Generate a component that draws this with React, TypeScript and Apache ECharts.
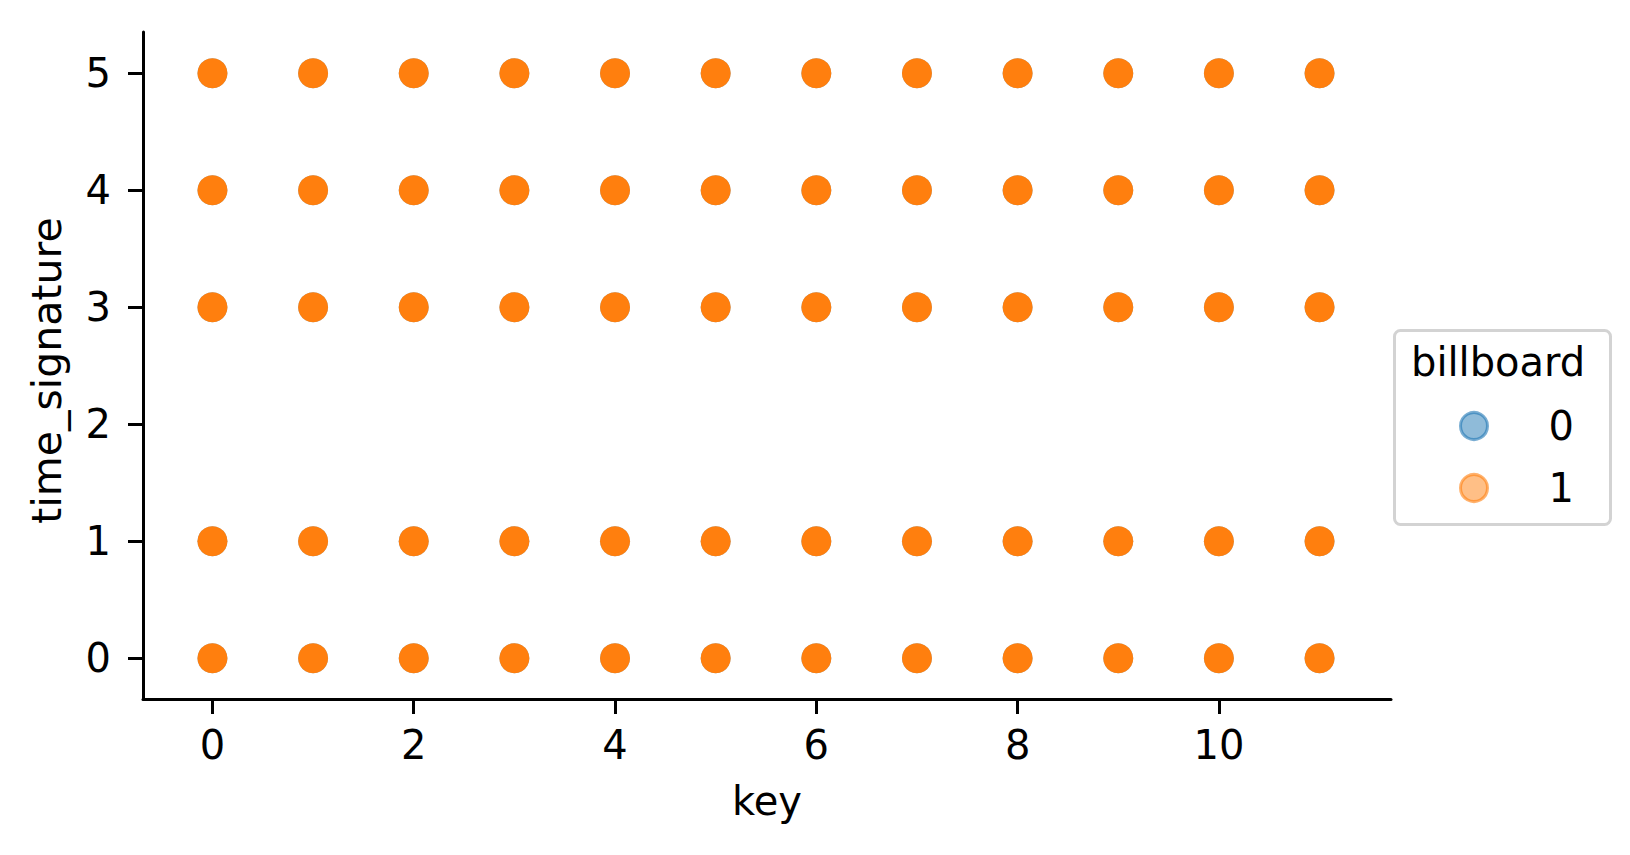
import React, { useEffect, useRef } from "react";
import * as echarts from "echarts";

const keys = [0, 1, 2, 3, 4, 5, 6, 7, 8, 9, 10, 11];
const timeSignatures = [0, 1, 3, 4, 5];
const billboardClasses = ["0", "1"];
const xTicks = [0, 2, 4, 6, 8, 10];
const yTicks = [0, 1, 2, 3, 4, 5];

const FONT = "DejaVu Sans";
const FS = 40;

export default function App() {
  const ref = useRef<HTMLDivElement>(null);
  useEffect(() => {
    if (!ref.current) return;
    const chart = echarts.init(ref.current, undefined, { renderer: "svg" });
    const points: number[][] = [];
    keys.forEach((k) => timeSignatures.forEach((t) => points.push([k, t])));

    const axisCommon = {
      axisLine: { show: true, onZero: false, lineStyle: { color: "#000", width: 3 } },
      axisTick: { show: true, length: 15, lineStyle: { color: "#000", width: 3 } },
      splitLine: { show: false },
      nameLocation: "middle" as const,
      nameTextStyle: { fontFamily: FONT, fontSize: FS, color: "#000" },
    };

    chart.setOption({
      animation: false,
      backgroundColor: "#fff",
      grid: { left: 143, top: 32, width: 1248, height: 667, containLabel: false },
      xAxis: {
        type: "value",
        min: -0.69,
        max: 11.71,
        name: "key",
        nameGap: 82,
        ...axisCommon,
        axisTick: { ...axisCommon.axisTick, customValues: xTicks },
        axisLabel: {
          customValues: xTicks,
          fontFamily: FONT,
          fontSize: FS,
          color: "#000",
          margin: 26,
        },
      },
      yAxis: {
        type: "value",
        min: -0.348,
        max: 5.353,
        name: "time_signature",
        nameGap: 76,
        ...axisCommon,
        nameTextStyle: { fontFamily: FONT, fontSize: 41, color: "#000", padding: [0, 10, 0, 0] },
        axisTick: { ...axisCommon.axisTick, customValues: yTicks },
        axisLabel: {
          customValues: yTicks,
          fontFamily: FONT,
          fontSize: FS,
          color: "#000",
          margin: 32,
        },
      },
      legend: {
        orient: "vertical",
        left: 1454,
        top: 401,
        itemWidth: 27,
        itemHeight: 27,
        itemGap: 22,
        icon: "circle",
        textStyle: { fontFamily: FONT, fontSize: FS, color: "#000", padding: [0, 0, 0, 56] },
        data: [
          {
            name: billboardClasses[0],
            itemStyle: { color: "rgba(31,119,180,0.5)", borderColor: "rgba(31,119,180,0.6)", borderWidth: 3, opacity: 1 },
          },
          {
            name: billboardClasses[1],
            itemStyle: { color: "rgba(255,127,14,0.5)", borderColor: "rgba(255,127,14,0.6)", borderWidth: 3, opacity: 1 },
          },
        ],
      },
      graphic: [
        {
          type: "rect",
          left: 1393,
          top: 329,
          shape: { width: 216, height: 194, r: 6 },
          style: { fill: "rgba(255,255,255,0.8)", stroke: "#d3d3d3", lineWidth: 3 },
          z: -1,
        },
        {
          type: "text",
          left: 1411,
          top: 342,
          style: { text: "billboard", fontFamily: FONT, fontSize: FS, fill: "#000" },
        },
      ],
      series: [
        {
          name: billboardClasses[0],
          type: "scatter",
          symbol: "circle",
          symbolSize: 30,
          data: points,
          itemStyle: { color: "#1f77b4", opacity: 0.5 },
        },
        {
          name: billboardClasses[1],
          type: "scatter",
          symbol: "circle",
          symbolSize: 30,
          data: points,
          itemStyle: { color: "#ff7f0e", opacity: 1 },
        },
      ],
    });
    return () => chart.dispose();
  }, []);
  return (
    <div
      ref={ref}
      style={{ position: "fixed", left: 0, top: 0, width: 1630, height: 855 }}
    />
  );
}
